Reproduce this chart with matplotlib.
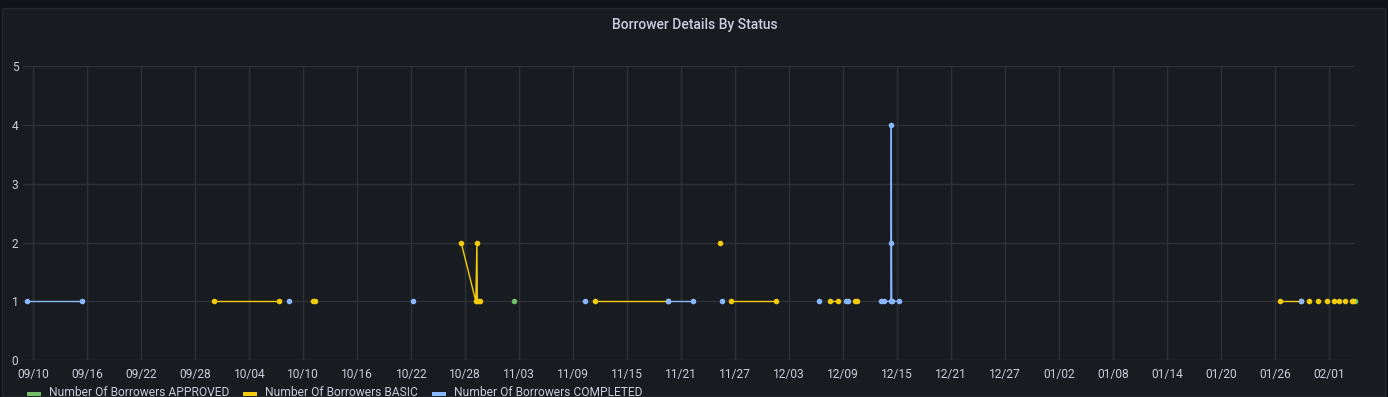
import matplotlib
matplotlib.use("Agg")
import matplotlib.pyplot as plt
from matplotlib.patches import FancyBboxPatch, Rectangle
import matplotlib.dates as mdates
import pandas as pd

plt.rcParams["font.family"] = ["Roboto", "DejaVu Sans"]

# --- data (None marks a break between connected runs) ---
approved_times = ["2022-11-02 09:00", None,
                  "2023-02-03 21:00"]
approved_counts = [1, None, 1]

basic_times = ["2022-09-30 03:00", "2022-10-07 08:00", None,
               "2022-10-11 03:00", "2022-10-11 07:00", None,
               "2022-10-27 13:00", "2022-10-29 04:00", "2022-10-29 07:00",
               "2022-10-29 08:00", "2022-10-29 12:00", "2022-10-29 15:00", None,
               "2022-11-11 11:00", "2022-11-19 13:00", None,
               "2022-11-25 08:00", None,
               "2022-11-26 13:00", "2022-12-01 13:00", None,
               "2022-12-07 13:00", "2022-12-08 11:00", None,
               "2022-12-10 07:00", "2022-12-10 12:00", None,
               "2023-01-26 12:00", "2023-01-28 21:00", None,
               "2023-01-29 19:00", None,
               "2023-01-30 19:00", None,
               "2023-01-31 19:00", None,
               "2023-02-01 12:00", None,
               "2023-02-02 01:00", None,
               "2023-02-02 19:00", None,
               "2023-02-03 12:00", "2023-02-03 16:00"]
basic_counts = [1, 1, None,
                1, 1, None,
                2, 1, 2, 1, 1, 1, None,
                1, 1, None,
                2, None,
                1, 1, None,
                1, 1, None,
                1, 1, None,
                1, 1, None,
                1, None,
                1, None,
                1, None,
                1, None,
                1, None,
                1, None,
                1, 1]

completed_times = ["2022-09-09 08:00", "2022-09-15 11:00", None,
                   "2022-10-08 11:00", None,
                   "2022-10-22 05:00", None,
                   "2022-11-10 08:00", None,
                   "2022-11-19 13:00", "2022-11-22 08:00", None,
                   "2022-11-25 13:00", None,
                   "2022-12-06 08:00", None,
                   "2022-12-09 06:00", "2022-12-09 13:00", None,
                   "2022-12-13 05:00", "2022-12-13 12:00", "2022-12-14 07:00",
                   "2022-12-14 08:00", "2022-12-14 08:30", "2022-12-14 09:00",
                   "2022-12-15 05:00", None,
                   "2023-01-28 21:00"]
completed_counts = [1, 1, None,
                    1, None,
                    1, None,
                    1, None,
                    1, 1, None,
                    1, None,
                    1, None,
                    1, 1, None,
                    1, 1, 1, 4, 2, 1, 1, None,
                    1]

series_names = ["Number Of Borrowers APPROVED",
                "Number Of Borrowers BASIC",
                "Number Of Borrowers COMPLETED"]
series_colors = ["#73bf69", "#f2cc0c", "#8ab8ff"]

tick_dates = pd.date_range("2022-09-10", "2023-02-01", freq="6D")
y_ticks = [0, 1, 2, 3, 4, 5]


def runs(times, counts):
    seg_t, seg_v = [], []
    for t, v in zip(times, counts):
        if t is None:
            if seg_t:
                yield seg_t, seg_v
            seg_t, seg_v = [], []
        else:
            seg_t.append(pd.Timestamp(t))
            seg_v.append(v)
    if seg_t:
        yield seg_t, seg_v


W, H = 1388, 397
BG_OUT = "#111217"
BG_PANEL = "#181b1f"
TEXT = "#ccccdc"
GRID = "#2d3035"

fig = plt.figure(figsize=(W / 100, H / 100), dpi=100, facecolor=BG_OUT)

panel = FancyBboxPatch((2.5 / W, 0.0), (W - 5) / W, 1 - 8.5 / H,
                       boxstyle="round,pad=0,rounding_size=0.003",
                       transform=fig.transFigure, fc=BG_PANEL, ec="#26282d",
                       lw=1, zorder=-5)
fig.add_artist(panel)

left, right = 23.3, 1354.6
bottom, top = 360.0, 66.5
ax = fig.add_axes([left / W, 1 - bottom / H, (right - left) / W, (bottom - top) / H])
ax.set_facecolor("none")

all_series = [(approved_times, approved_counts),
              (basic_times, basic_counts),
              (completed_times, completed_counts)]
for (times, counts), color in zip(all_series, series_colors):
    for t, v in runs(times, counts):
        ax.plot(t, v, color=color, lw=1.0, marker="o", ms=4.0, mew=0,
                clip_on=False, zorder=3)

ax.set_xlim(pd.Timestamp("2022-09-08 21:20"), pd.Timestamp("2023-02-03 19:30"))
ax.set_ylim(0, 5)
ax.set_xticks(tick_dates)
ax.xaxis.set_major_formatter(mdates.DateFormatter("%m/%d"))
ax.set_yticks(y_ticks)

for s in ax.spines.values():
    s.set_visible(False)
ax.grid(True, color=GRID, lw=1)
ax.tick_params(axis="both", length=0, labelsize=8.64, labelcolor=TEXT)
ax.tick_params(axis="x", pad=5.5)
ax.tick_params(axis="y", pad=3.5)

fig.text(695 / W, 1 - 25.5 / H, "Borrower Details By Status", ha="center",
         va="center", fontsize=10, fontweight="medium", color=TEXT)

# legend along the bottom edge
legend_x = [27, 243, 432]
for x, name, color in zip(legend_x, series_names, series_colors):
    fig.add_artist(Rectangle((x / W, 1 - 395.5 / H), 14 / W, 4 / H,
                             transform=fig.transFigure, fc=color, ec="none"))
    fig.text((x + 22) / W, 1 - 392.5 / H, name, ha="left", va="center",
             fontsize=8.64, color=TEXT)

fig.savefig("out.png", dpi=100, facecolor=BG_OUT)
